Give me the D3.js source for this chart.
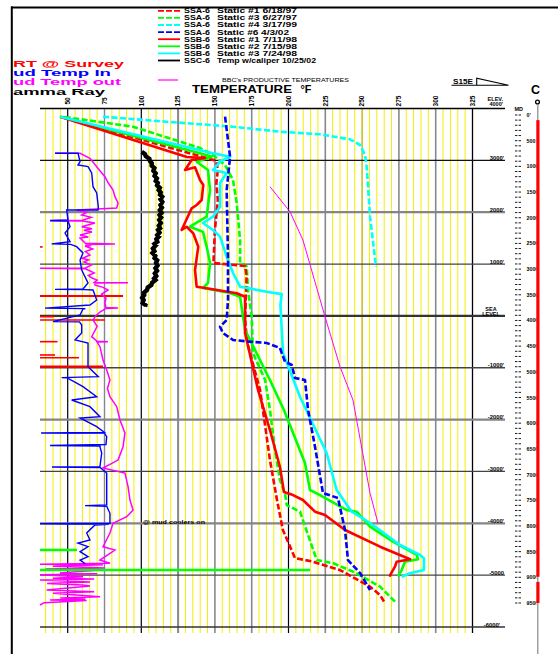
<!DOCTYPE html>
<html><head><meta charset="utf-8">
<script src="https://cdn.jsdelivr.net/npm/d3@7"></script>
<style>body{margin:0;background:#fff} svg{display:block} text{font-family:"Liberation Sans",Arial,sans-serif}</style>
</head><body><svg id="c" width="558" height="654"></svg>
<script>
// ---------- axis values ----------
const tempTicks = [50,75,100,125,150,175,200,225,250,275,300,325];
const tempTickLabels = ["50","75","100","125","150","175","200","225","250","275","300","325"];
const elevTicks = [4000,3000,2000,1000,0,-1000,-2000,-3000,-4000,-5000,-6000];
const elevTickLabels = ["4000'","3000'","2000'","1000'","SEA LEVEL","-1000'","-2000'","-3000'","-4000'","-5000","-6000'"];
const mdTicks = [0,500,1000,1500,2000,2500,3000,3500,4000,4500,5000,5500,6000,6500,7000,7500,8000,8500,9000,9500];
const mdTickLabels = ["0'","500","1000","1500","2000","2500","3000","3500","4000","4500","5000","5500","6000","6500","7000","7500","8000","8500","9000","9500"];
const redBarMD = [[100,8990],[9090,9500]];

// ---------- series: [temperature °F, elevation ft] ----------
const ssa6Static1 = [[46,3836],[149,3007],[151,2974],[152,2814],[151,2563],[152,2235],[150,1657],[149,1020],[170.5,962],[171.5,756],[170.5,-79],[172,-523],[180.7,-1429],[187.4,-2780],[192.2,-3551],[196.2,-4130],[204.4,-4670],[216.6,-4740],[235,-4901],[255.4,-5223],[262.2,-5383],[265.6,-5543]];
const ssa6Static3 = [[48,3836],[94.4,3649],[139.9,3238],[148.7,3103],[156.9,2910],[162.3,2621],[164.8,2177],[167.1,1464],[167.1,1020],[171.6,949],[172.5,500],[175,-15],[175.9,-721],[184.1,-1236],[187.4,-1815],[190.8,-2587],[194.2,-3166],[197.6,-3422],[198.8,-3648],[207.8,-3776],[219.2,-4709],[230.4,-4771],[246.3,-4964],[262.2,-5222],[272.3,-5512]];
const ssa6Static4 = [[74,3842],[117.3,3745],[162.3,3649],[194.2,3553],[221.4,3502],[241.8,3406],[248.6,3296],[252,3103],[253.1,2878],[255.4,1913],[259.4,949]];
const ssa6Static6 = [[156.9,3842],[160.3,3070],[158,2428],[158.9,1142],[158.9,307],[158,-79],[153.5,-208],[155.5,-330],[162.3,-464],[173.9,-497],[185.2,-522],[194.2,-619],[197.6,-883],[202.2,-947],[204.4,-1198],[211.2,-1236],[213.3,-1815],[218,-2523],[223.4,-3416],[233.6,-3513],[238.4,-4130],[240.4,-4709],[248.6,-4959],[255.4,-5287]];
const ssb6Static1 = [[44.8,3842],[131,3065],[143.3,3045],[134.2,3007],[129.7,2814],[136.5,2866],[139.9,2621],[142.1,2525],[141,2235],[137.6,2139],[134.2,2075],[127.4,1657],[130.8,1720],[135.3,1593],[138.7,1335],[136.5,885],[137.6,563],[144.4,532],[164.8,436],[170.5,370],[170.5,-79],[170.5,-330],[179.3,-1429],[187.4,-2201],[194.2,-2914],[196.9,-3397],[203.1,-3455],[209.8,-3551],[218,-3776],[224.8,-3840],[238.4,-4130],[262.2,-4451],[282.6,-4694],[273.5,-4740],[272.3,-4837],[268.5,-5030]];
const ssb6Static2 = [[44.8,3842],[139.9,3136],[147.8,3070],[137.6,2974],[145.3,2814],[146.7,2428],[144.4,1913],[133.1,1720],[141.9,1620],[144.4,1335],[146.7,1020],[145.3,635],[141.9,539],[160.3,442],[167.1,370],[169.1,-15],[170.5,-272],[187.4,-1236],[196.9,-1815],[211.2,-2837],[214.6,-3358],[221.4,-3455],[239.5,-3744],[246.3,-3776],[255.4,-4065],[271,-4355],[287.1,-4611],[288,-4694],[279.1,-4740],[276.9,-4901],[274.4,-5030]];
const ssb6Static3 = [[44.8,3842],[148.7,3136],[160.3,3070],[153.5,2974],[148.7,2814],[158,2756],[153.5,2563],[153.5,2106],[148.7,1913],[141.9,1792],[148.7,1657],[153.5,1528],[158,1142],[162.3,827],[167.1,563],[185.2,467],[195.4,420],[194.5,210],[196.3,-715],[207.8,-1558],[225.9,-2644],[232.7,-3358],[242.9,-3776],[255.4,-3994],[275.8,-4418],[289.4,-4611],[292,-4675],[292,-4901],[282.6,-4964],[276.9,-5030]];
const ssc6Caliper = [[100.3,3167],[102.5,3120],[103,3080],[105.5,3030],[105.8,2990],[107.1,2943],[107,2900],[108.9,2850],[108.2,2800],[109.8,2750],[109,2700],[110.6,2650],[109.8,2600],[111.2,2563],[110.7,2520],[112.6,2470],[111.8,2428],[113.2,2380],[112.7,2340],[114.2,2299],[113,2250],[114.3,2200],[113,2139],[114,2090],[112.6,2040],[113.8,1990],[112.4,1946],[113.5,1900],[112.2,1850],[113.3,1792],[111.9,1740],[112.8,1690],[111.4,1657],[112.4,1610],[110.9,1560],[111.9,1528],[110.2,1480],[110.9,1430],[109,1390],[109.9,1361],[107.9,1300],[108.9,1250],[107.6,1213],[109.5,1160],[109,1115],[110.8,1070],[110,1020],[111,970],[109.6,920],[110.7,870],[109.2,820],[110.2,770],[108.7,720],[109.6,692],[107.3,640],[106.8,596],[104.4,550],[103.9,500],[101.9,450],[102,403],[100.6,350],[101.6,307],[100.9,250],[102.8,210],[102.5,178]];
const productiveTemps = [[187.4,2492],[201,2010],[209.8,1464],[224.8,-15],[235,-980],[243.8,-1622],[255.4,-3421],[260.8,-4000]];
const mudTempIn = [[41.4,3137],[57,3137],[58.4,2974],[57,2910],[63.8,2878],[66.3,2756],[67.2,2492],[69.7,2370],[70.8,2106],[70.6,2043],[49.3,2043],[50.2,1850],[38,1840],[50.2,1830],[51.6,1720],[48.2,1599],[51.6,1431],[39.1,1390],[52,1380],[56.1,1335],[60.4,1213],[58.4,1078],[59.5,885],[63.8,635],[60.4,519],[41.4,512],[62,506],[67.2,500],[69.7,307],[65.1,210],[34.6,150],[62,140],[60.4,133],[58.4,18],[40,-110],[58,-115],[59.5,-175],[59.5,-330],[55,-464],[63.8,-522],[63.8,-980],[70.8,-1172],[45.9,-1190],[50,-1200],[60.4,-1365],[69.7,-1558],[52.7,-1622],[65.1,-1751],[71.9,-1944],[58.4,-1969],[69.7,-2137],[75,-2250],[31.9,-2258],[75,-2266],[76.5,-2330],[76,-2480],[38,-2500],[72,-2510],[71.9,-2523],[73.1,-2644],[71.9,-2908],[39.3,-2915],[72,-2925],[76.5,-3030],[76.5,-3416],[76.5,-3647],[61.8,-3660],[76.5,-3672],[78.7,-3807],[78.7,-4000],[31.2,-4010],[78,-4018],[68.5,-4033],[62.9,-4187],[65.1,-4323],[57,-4381],[63.8,-4451],[58.4,-4548],[63.8,-4644],[58.4,-4709],[62,-4780]];
const mudTempOut = [[41.4,3136],[58.4,3136],[65.1,3040],[71.9,2800],[75.3,2685],[77.6,2563],[80.8,2428],[82.1,2299],[84.2,2177],[83.3,2081],[56.1,2043],[63,2000],[59.5,1946],[66,1900],[60,1845],[38,1836],[60,1828],[68.5,1792],[59.5,1720],[66.5,1680],[61,1650],[66.5,1618],[58.4,1560],[64,1520],[58.4,1503],[62,1400],[82.1,1386],[62,1375],[66,1360],[61.8,1348],[67,1290],[62,1240],[65.1,1175],[60,1110],[64,1080],[61.1,1040],[66,980],[62,925],[31.2,918],[62,910],[63.8,885],[68,830],[64,780],[66.5,731],[70,690],[68,645],[91,640],[68.5,632],[68.5,596],[74,550],[77.4,500],[73,420],[76,340],[75.3,249],[76,160],[84.2,153],[76,145],[71.9,75],[69,0],[67.2,-79],[70,-200],[66.3,-401],[70,-490],[77.4,-497],[70,-505],[71.9,-594],[74,-850],[76.5,-1043],[78.7,-1236],[77,-1400],[78.7,-1558],[83.3,-1751],[85.5,-2008],[88.9,-2258],[87.6,-2523],[84.2,-2780],[74,-2934],[88.9,-3030],[91,-3294],[92.3,-3551],[94.4,-3744],[90.1,-3873],[80.8,-4000],[78.7,-4187],[74,-4451],[82.1,-4515],[71.9,-4709],[78.7,-4771],[31.2,-4790],[74,-4800],[40,-4830],[75.3,-4860],[35,-4880],[72,-4901],[44.8,-4959],[70,-4975],[31.2,-4990],[60.4,-5030],[40,-5060],[68,-5075],[31.2,-5094],[65.1,-5130],[36,-5160],[60,-5190],[65.1,-5210],[35.7,-5287],[68,-5320],[40,-5350],[71.9,-5415],[45,-5440],[62,-5460],[38,-5480],[62.9,-5490],[34,-5530],[31.2,-5576]];
// horizontal marks: [elevation, temperature reached]
const rtSurvey = [[1330,33],[384,87.6],[-15,40.7],[-79,75.3],[-497,43.1],[-754,41.4],[-806,57.7],[-980,74.0]];
const greenMarks = [[-4515,56.3],[-4901,214.6]];

const legendRows = [
 {well:"SSA-6", label:"Static #1 6/18/97", color:"#ff0000", dash:true, end:297},
 {well:"SSA-6", label:"Static #3 6/27/97", color:"#00ff00", dash:true, end:297},
 {well:"SSA-6", label:"Static #4 3/17/99", color:"#00ffff", dash:true, end:297},
 {well:"SSA-6", label:"Static #6 4/3/02", color:"#0000ff", dash:true, end:289},
 {well:"SSB-6", label:"Static #1 7/11/98", color:"#ff0000", dash:false, end:297},
 {well:"SSB-6", label:"Static #2 7/15/98", color:"#00ff00", dash:false, end:297},
 {well:"SSB-6", label:"Static #3 7/24/98", color:"#00ffff", dash:false, end:297},
 {well:"SSC-6", label:"Temp w/caliper 10/25/02", color:"#000000", dash:false, end:316}
];

// ---------- drawing ----------
const svg = d3.select("#c");
svg.append("rect").attr("width",558).attr("height",654).attr("fill","#fff");
const x = d3.scaleLinear().domain([50,325]).range([67.7,472.5]);
const y = d3.scaleLinear().domain([4000,-6000]).range([108.5,627]);
const md = d3.scaleLinear().domain([0,9500]).range([115,603]);
const plotLeft = 40, gridBottom = 633, labelRight = 505;

const g = svg.append("g");
// minor yellow grid
const minors = d3.range(35,326,5).filter(t => (t-50)%25 !== 0);
g.selectAll(".mn").data(minors).join("line")
  .attr("x1",d=>x(d)).attr("x2",d=>x(d)).attr("y1",y(4000)).attr("y2",gridBottom)
  .attr("stroke","#f4ee00").attr("stroke-width",1);
const majorColors = ["#000","#888","#000","#888","#888","#888","#000","#888","#c2b800","#888","#888","#000"];
const majorWidths = [1.2,1.4,1.2,2,1.6,1.6,1.2,1.6,1.4,1.6,1.6,1.3];
g.selectAll(".mj").data(tempTicks).join("line")
  .attr("x1",d=>x(d)).attr("x2",d=>x(d)).attr("y1",y(4000)).attr("y2",gridBottom)
  .attr("stroke",(d,i)=>majorColors[i]).attr("stroke-width",(d,i)=>majorWidths[i]);
// top rotated labels
g.selectAll(".tl").data(tempTicks).join("text")
  .attr("transform",d=>`translate(${x(d)+2.2},101) rotate(-90)`)
  .attr("text-anchor","middle").attr("font-size",6.5).attr("font-weight","bold")
  .text((d,i)=>tempTickLabels[i]);

// horizontal elevation lines
const hColors = ["#000","#111","#858585","#444","#333","#444","#858585","#444","#858585","#444","#333"];
const hWidths = [1.6,1.1,2.2,1.3,2.2,1.5,2.2,1.3,2.2,1.3,1.3];
g.selectAll(".hl").data(elevTicks).join("line")
  .attr("x1",plotLeft).attr("x2",labelRight).attr("y1",d=>y(d)).attr("y2",d=>y(d))
  .attr("stroke",(d,i)=>hColors[i]).attr("stroke-width",(d,i)=>hWidths[i]);
// elevation labels
elevTicks.forEach((e,i)=>{
  const lab = elevTickLabels[i];
  if (e === 4000) {
    g.append("text").attr("x",503).attr("y",100.5).attr("text-anchor","end").attr("font-size",5.5).attr("font-weight","bold").text("ELEV.");
    g.append("text").attr("x",503).attr("y",106).attr("text-anchor","end").attr("font-size",5.5).attr("font-weight","bold").text(lab);
  } else if (e === 0) {
    g.append("text").attr("x",491).attr("y",310.8).attr("text-anchor","middle").attr("font-size",5.5).attr("font-weight","bold").text("SEA");
    g.append("text").attr("x",491).attr("y",315.6).attr("text-anchor","middle").attr("font-size",5.5).attr("font-weight","bold").text("LEVEL");
  } else {
    g.append("text").attr("x",e===-6000?500:504).attr("y",y(e)-0.5).attr("text-anchor","end").attr("font-size",5.8).attr("font-weight","bold").text(lab);
  }
});

// horizontal marks
g.selectAll(".rt").data(rtSurvey).join("line")
  .attr("x1",plotLeft).attr("x2",d=>x(d[1])).attr("y1",d=>y(d[0])).attr("y2",d=>y(d[0]))
  .attr("stroke","#ff0000").attr("stroke-width",(d,i)=>i===1||i===7?2.2:1.6);
const line = d3.line().x(d=>x(d[0])).y(d=>y(d[1]));
g.append("path").attr("d",line(mudTempOut)).attr("fill","none").attr("stroke","#ff00ff").attr("stroke-width",1.5);
g.append("path").attr("d",line(mudTempIn)).attr("fill","none").attr("stroke","#0000ff").attr("stroke-width",1.4);
g.selectAll(".gm").data(greenMarks).join("line")
  .attr("x1",plotLeft).attr("x2",d=>x(d[1])).attr("y1",d=>y(d[0])).attr("y2",d=>y(d[0]))
  .attr("stroke","#00ff00").attr("stroke-width",2.6);

g.append("path").attr("d",line(ssc6Caliper)).attr("fill","none").attr("stroke","#000").attr("stroke-width",4.4).attr("stroke-linejoin","miter");
g.append("path").attr("d",line(productiveTemps)).attr("fill","none").attr("stroke","#ff00ff").attr("stroke-width",1);

const series = [
  {d:ssa6Static3,c:"#00ff00",dash:true},
  {d:ssa6Static1,c:"#ff0000",dash:true},
  {d:ssa6Static4,c:"#00ffff",dash:true},
  {d:ssb6Static2,c:"#00ff00",dash:false},
  {d:ssb6Static1,c:"#ff0000",dash:false},
  {d:ssb6Static3,c:"#00ffff",dash:false},
  {d:ssa6Static6,c:"#0000ff",dash:true}
];
series.forEach(s=>{
  g.append("path").attr("d",line(s.d)).attr("fill","none").attr("stroke",s.c)
   .attr("stroke-width",2.6).attr("stroke-dasharray",s.dash?"6,2.5":null).attr("stroke-linejoin","round");
});

g.append("text").attr("x",143).attr("y",523.5).attr("font-size",5.8).attr("font-weight","bold").attr("textLength",62).attr("lengthAdjust","spacingAndGlyphs").text("@ mud coolers on");

// legend
legendRows.forEach((r,i)=>{
  const ly = 10.8 + i*7.1;
  svg.append("line").attr("x1",158).attr("x2",180).attr("y1",ly).attr("y2",ly)
    .attr("stroke",r.color).attr("stroke-width",1.8).attr("stroke-dasharray",r.dash?"6,2":null);
  svg.append("text").attr("x",184).attr("y",ly+2.4).attr("font-size",7).attr("font-weight","bold")
    .attr("textLength",26).attr("lengthAdjust","spacingAndGlyphs").text(r.well);
  svg.append("text").attr("x",217).attr("y",ly+2.4).attr("font-size",6.8).attr("font-weight","bold")
    .attr("textLength",r.end-217).attr("lengthAdjust","spacingAndGlyphs").text(r.label);
});
svg.append("line").attr("x1",158).attr("x2",178).attr("y1",80).attr("y2",80).attr("stroke","#ff00ff").attr("stroke-width",1.2);
svg.append("text").attr("x",222).attr("y",82.3).attr("font-size",5.6).attr("textLength",127).attr("lengthAdjust","spacingAndGlyphs").text("BBC's PRODUCTIVE  TEMPERATURES");
svg.append("text").attr("x",192).attr("y",93.2).attr("font-size",10.8).attr("font-weight","bold").attr("font-family","DejaVu Sans").attr("textLength",100).attr("lengthAdjust","spacingAndGlyphs").text("TEMPERATURE");
svg.append("text").attr("x",300.5).attr("y",93.2).attr("font-size",10.8).attr("font-weight","bold").attr("font-family","DejaVu Sans").text("°F");

// left header
const hdr = [
  {t:"RT @ Survey", c:"#ff0000", y:66.6, w:111},
  {t:"ud Temp In", c:"#0000ff", y:75.8, w:98},
  {t:"ud Temp out", c:"#ff00ff", y:85.0, w:108},
  {t:"amma Ray", c:"#000000", y:94.6, w:92}
];
hdr.forEach(h=>{
  svg.append("text").attr("x",13).attr("y",h.y).attr("font-size",8.8).attr("font-weight","bold")
   .attr("font-family","DejaVu Sans").attr("fill",h.c).attr("textLength",h.w).attr("lengthAdjust","spacingAndGlyphs").text(h.t);
});

// S15E marker
svg.append("text").attr("x",453).attr("y",84).attr("font-size",6.5).attr("font-weight","bold").attr("textLength",20).attr("lengthAdjust","spacingAndGlyphs").text("S15E");
svg.append("path").attr("d","M451.5,85.3 L508.5,85.3 M476.7,85.3 L476.7,78.3 L508.5,85.3").attr("fill","none").attr("stroke","#000").attr("stroke-width",1.1);

// C + MD track
svg.append("text").attr("x",531).attr("y",93.5).attr("font-size",12.5).attr("font-weight","bold").attr("font-family","DejaVu Sans").text("C");
svg.append("circle").attr("cx",537.5).attr("cy",102).attr("r",1.9).attr("fill","none").attr("stroke","#000").attr("stroke-width",1.3);
svg.append("line").attr("x1",537.8).attr("x2",537.8).attr("y1",104.5).attr("y2",654).attr("stroke","#888").attr("stroke-width",1.2);
svg.selectAll(".rb").data(redBarMD).join("rect")
  .attr("x",536.3).attr("width",3.2).attr("y",d=>md(d[0])).attr("height",d=>md(d[1])-md(d[0])).attr("fill","#ff0000");
svg.append("text").attr("x",514.5).attr("y",111).attr("font-size",5.5).attr("font-weight","bold").text("MD");
const mdRows = d3.range(0,9501,100);
svg.selectAll(".mdd1").data(mdRows).join("line").attr("x1",515).attr("x2",517.4).attr("y1",d=>md(d)).attr("y2",d=>md(d)).attr("stroke","#000").attr("stroke-width",0.9);
svg.selectAll(".mdd2").data(mdRows).join("line").attr("x1",518.6).attr("x2",521).attr("y1",d=>md(d)).attr("y2",d=>md(d)).attr("stroke","#000").attr("stroke-width",0.9);
svg.append("clipPath").attr("id","mdclip").append("rect").attr("x",520).attr("y",100).attr("width",16.3).attr("height",520);
svg.append("g").attr("clip-path","url(#mdclip)").selectAll("text").data(mdTicks).join("text")
  .attr("x",526.5).attr("y",d=>md(d)+2).attr("font-size",5.3).attr("font-weight","bold").text((d,i)=>mdTickLabels[i]);

// frame
svg.append("line").attr("x1",11).attr("x2",558).attr("y1",7.5).attr("y2",7.5).attr("stroke","#000").attr("stroke-width",2);
svg.append("line").attr("x1",11.8).attr("x2",11.8).attr("y1",6.5).attr("y2",654).attr("stroke","#000").attr("stroke-width",2);
</script></body></html>
